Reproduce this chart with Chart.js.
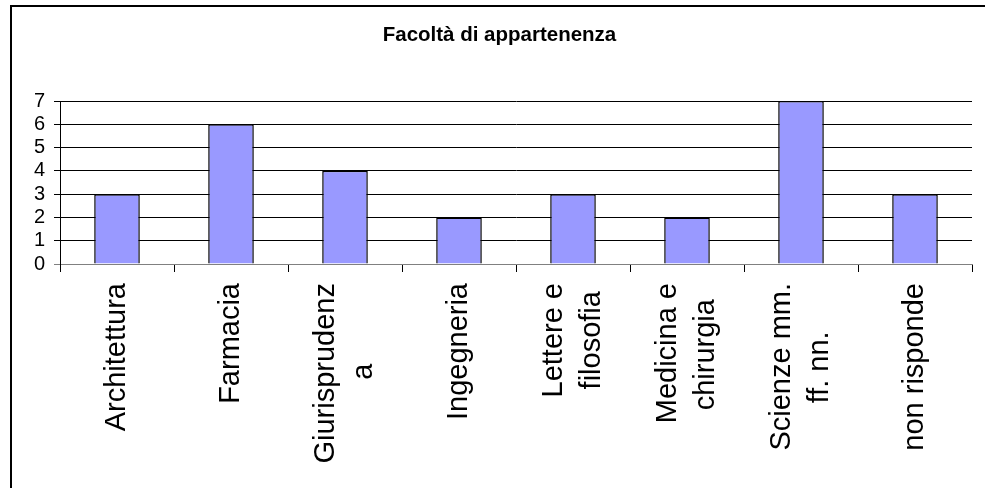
<!DOCTYPE html>
<html>
<head>
<meta charset="utf-8">
<script src="https://cdn.jsdelivr.net/npm/chart.js@4/dist/chart.umd.min.js"></script>
<style>
  html, body { margin: 0; padding: 0; background: #ffffff; overflow: hidden; }
  #wrap { position: relative; width: 985px; height: 488px; }
</style>
</head>
<body>
<div id="wrap"><canvas id="c"></canvas></div>
<script>
// ---- data ----
const chartTitle = "Facoltà di appartenenza";
const categories = [
  ["Architettura"],
  ["Farmacia"],
  ["Giurisprudenz", "a"],
  ["Ingegneria"],
  ["Lettere e", "filosofia"],
  ["Medicina e", "chirurgia"],
  ["Scienze mm.", "ff. nn."],
  ["non risponde"]
];
const values = [3, 6, 4, 2, 3, 2, 7, 3];
const yMin = 0;
const yMax = 7;
const yStep = 1;

// ---- styling ----
const FONT = "'Liberation Sans', Arial, Helvetica, sans-serif";
const LINE = 38;      // line spacing of wrapped category labels
const LABEL_SIZE = 29;

// Rotated labels are end-aligned by the library; pad shorter lines with
// trailing spaces so wrapped lines appear centred on each other.
const mctx = document.createElement('canvas').getContext('2d');
mctx.font = LABEL_SIZE + "px " + FONT;
const spaceW = mctx.measureText(' ').width;
function centreLines(lines) {
  if (lines.length === 1) return ["", lines[0]];
  const widths = lines.map(l => mctx.measureText(l).width);
  const maxW = Math.max(...widths);
  return lines.map((l, i) => l + ' '.repeat(Math.max(0, Math.round((maxW - widths[i]) / 2 / spaceW))));
}
const labels = categories.map(centreLines);

const frame = {
  id: 'frame',
  beforeDraw(chart) {
    const ctx = chart.ctx;
    ctx.save();
    ctx.lineWidth = 2;
    ctx.strokeStyle = '#000';
    ctx.beginPath();
    ctx.moveTo(11, chart.height + 5);
    ctx.lineTo(11, 6);
    ctx.lineTo(chart.width + 5, 6);
    ctx.stroke();
    ctx.restore();
  }
};

new Chart(document.getElementById('c'), {
  type: 'bar',
  data: {
    labels: labels,
    datasets: [{
      data: values,
      backgroundColor: '#9999FF',
      borderColor: '#000000',
      borderWidth: 1.5,
      categoryPercentage: 1.0,
      barPercentage: 0.4
    }]
  },
  options: {
    responsive: true,
    maintainAspectRatio: false,
    animation: false,
    layout: { padding: { left: 27, right: 13, top: 0, bottom: 0 } },
    plugins: {
      legend: { display: false },
      tooltip: { enabled: false },
      title: {
        display: true,
        text: chartTitle,
        color: '#000',
        font: { family: FONT, size: 20.5, weight: 'bold', lineHeight: 1.2 },
        padding: { top: 23, bottom: 53.4 }
      }
    },
    scales: {
      x: {
        type: 'category',
        offset: true,
        grid: {
          offset: true,
          drawOnChartArea: false,
          drawTicks: true,
          tickLength: 8,
          color: '#000'
        },
        border: { display: true, color: '#808080', width: 1 },
        ticks: {
          autoSkip: false,
          minRotation: 90,
          maxRotation: 90,
          padding: 11,
          labelOffset: -LINE / 2,
          color: '#000',
          font: (ctx) => {
            const n = (ctx && ctx.index !== undefined && categories[ctx.index]) ? categories[ctx.index].length : 2;
            return { family: FONT, size: LABEL_SIZE, lineHeight: (n === 1 ? LINE / 2 : LINE) + 'px' };
          }
        },
        afterFit(scale) { scale.height = 224; }
      },
      y: {
        min: yMin,
        max: yMax,
        grid: {
          drawTicks: true,
          tickLength: 6,
          color: (ctx) => (ctx.tick && ctx.tick.value === 0) ? '#808080' : '#000'
        },
        border: { display: true, color: '#000', width: 1 },
        ticks: {
          stepSize: yStep,
          autoSkip: false,
          padding: 9,
          color: '#000',
          font: { family: FONT, size: 20 }
        },
        afterFit(scale) { scale.width = 33; }
      }
    }
  },
  plugins: [frame]
});
</script>
</body>
</html>
